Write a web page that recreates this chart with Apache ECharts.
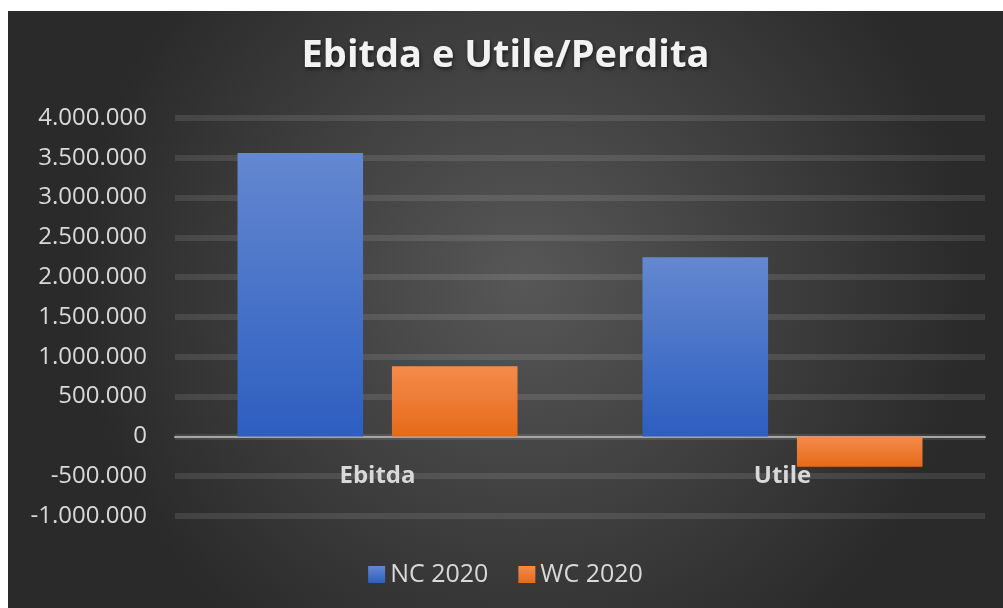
<!DOCTYPE html>
<html>
<head>
<meta charset="utf-8">
<script src="https://cdn.jsdelivr.net/npm/echarts@6/dist/echarts.min.js"></script>
<style>
  html, body { margin: 0; padding: 0; background: #fff; }
  #main { position: absolute; left: 8px; top: 11px; width: 995px; height: 597px; }
</style>
</head>
<body>
<div id="main"></div>
<script>
const categories = ['Ebitda', 'Utile']
const seriesNames = ['NC 2020', 'WC 2020']
const nc2020 = [3560000, 2250000]
const wc2020 = [880000, -380000]

// formato italiano: 4.000.000
function fmt(v) {
  const s = String(Math.abs(v)).replace(/\B(?=(\d{3})+(?!\d))/g, '.')
  return v < 0 ? '-' + s : s
}

const myChart = echarts.init(document.getElementById('main'))

const blue = new echarts.graphic.LinearGradient(0, 0, 0, 1, [
  { offset: 0, color: '#6488d0' },
  { offset: 1, color: '#2d5ec0' }
])
const orange = new echarts.graphic.LinearGradient(0, 0, 0, 1, [
  { offset: 0, color: '#f48b4c' },
  { offset: 1, color: '#e66a18' }
])

myChart.setOption({
  backgroundColor: new echarts.graphic.RadialGradient(0.52, 0.45, 0.75, [
    { offset: 0, color: '#575757' },
    { offset: 1, color: '#2a2a2a' }
  ]),
  textStyle: { fontFamily: 'Open Sans, Noto Sans, sans-serif' },
  title: {
    text: 'Ebitda e Utile/Perdita',
    left: 'center',
    top: 21,
    textStyle: {
      color: '#f2f2f2',
      fontSize: 38,
      fontWeight: 'bold',
      textShadowColor: 'rgba(0,0,0,0.6)',
      textShadowBlur: 4,
      textShadowOffsetX: 1,
      textShadowOffsetY: 2
    }
  },
  legend: {
    data: seriesNames,
    bottom: 16,
    left: 'center',
    itemWidth: 17,
    itemHeight: 17,
    itemGap: 30,
    icon: 'rect',
    textStyle: { color: '#d9d9d9', fontSize: 25 }
  },
  grid: { left: 167, right: 18, top: 107, bottom: 92, containLabel: false },
  xAxis: {
    type: 'category',
    data: categories,
    axisLine: { onZero: true, lineStyle: { color: '#a6a6a6', width: 2 } },
    axisTick: { show: false },
    axisLabel: {
      color: '#d9d9d9',
      fontSize: 24,
      fontWeight: 'bold',
      margin: -52
    }
  },
  yAxis: {
    type: 'value',
    min: -1000000,
    max: 4000000,
    interval: 500000,
    axisLine: { show: false },
    axisTick: { show: false },
    axisLabel: {
      color: '#d9d9d9',
      fontSize: 24,
      margin: 28,
      formatter: fmt
    },
    splitLine: { lineStyle: { color: 'rgba(255,255,255,0.1)', width: 6 } }
  },
  series: [
    {
      name: seriesNames[0],
      type: 'bar',
      data: nc2020,
      barWidth: '31%',
      barGap: '23%',
      itemStyle: {
        color: blue,
        shadowColor: 'rgba(0,0,0,0.45)',
        shadowBlur: 6,
        shadowOffsetX: 2,
        shadowOffsetY: 3
      }
    },
    {
      name: seriesNames[1],
      type: 'bar',
      data: wc2020,
      barWidth: '31%',
      itemStyle: {
        color: orange,
        shadowColor: 'rgba(0,0,0,0.45)',
        shadowBlur: 6,
        shadowOffsetX: 2,
        shadowOffsetY: 3
      }
    }
  ]
})
</script>
</body>
</html>
